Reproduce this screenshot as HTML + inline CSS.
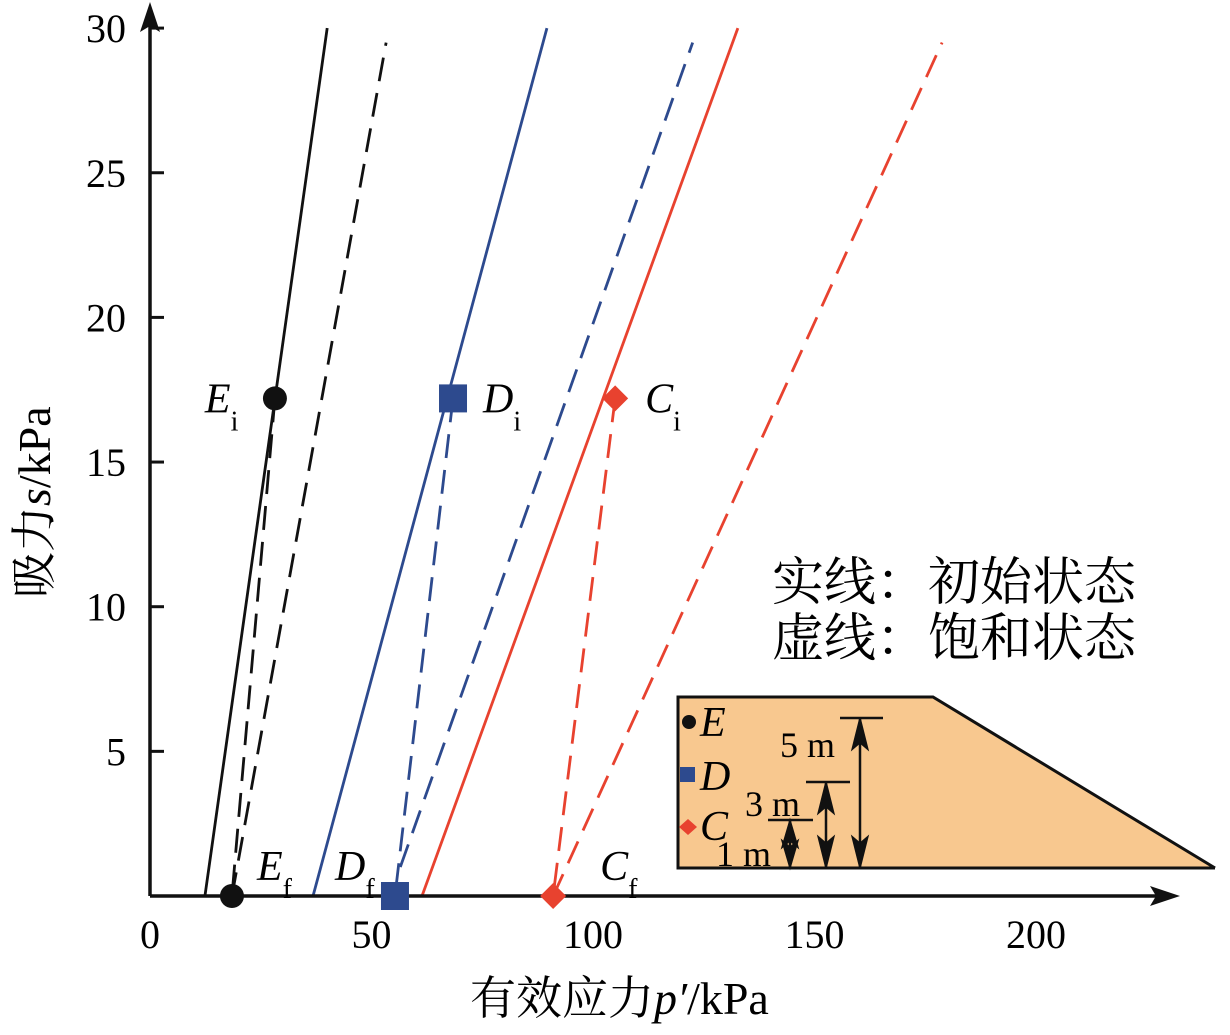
<!DOCTYPE html>
<html><head><meta charset="utf-8"><style>
body{margin:0;background:#fff}
svg{display:block}
text{font-family:"Liberation Serif","Noto Serif CJK SC",serif}
</style></head><body>
<svg id="chart" width="1230" height="1035" viewBox="0 0 1230 1035">
<g id="inset">
<polygon points="678,697 933,697 1215,868 678,868" fill="#f8c88f" stroke="none"/>
<polyline points="1215,868 678,868 678,697 933,697 1215,868" fill="none" stroke="#111" stroke-width="3"/>
<circle cx="689" cy="722" r="7" fill="#111"/>
<text x="700" y="736" font-size="42" font-style="italic">E</text>
<rect x="680" y="767" width="15" height="15" fill="#2d4a8e"/>
<text x="700" y="790" font-size="42" font-style="italic">D</text>
<polygon points="679,827 688,819 697,827 688,835" fill="#e8422f"/>
<text x="700" y="840" font-size="42" font-style="italic">C</text>
<g stroke="#111" stroke-width="2.5" fill="#111">
<line x1="840" y1="718" x2="883" y2="718"/><line x1="860" y1="718" x2="860" y2="868"/>
<polygon points="860,720 853,748 860,742 867,748"/><polygon points="860,866 853,838 860,844 867,838"/>
<line x1="806" y1="782" x2="850" y2="782"/><line x1="826" y1="782" x2="826" y2="868"/>
<polygon points="826,784 819,812 826,806 833,812"/><polygon points="826,866 819,838 826,844 833,838"/>
<line x1="768" y1="820" x2="813" y2="820"/><line x1="790" y1="820" x2="790" y2="868"/>
<polygon points="790,822 783,846 790,840 797,846"/><polygon points="790,866 783,842 790,848 797,842"/>
</g>
<text x="780" y="757" font-size="36">5 m</text>
<text x="745" y="816" font-size="36">3 m</text>
<text x="716" y="866" font-size="36">1 m</text>
</g>
<g id="plot"></g>
<text x="772" y="600" font-size="52" font-family="Noto Serif CJK SC, serif">实线：初始状态</text>
<text x="772" y="656" font-size="52" font-family="Noto Serif CJK SC, serif">虚线：饱和状态</text>
<text x="470" y="1014" font-size="46">有效应力<tspan font-style="italic">p′</tspan>/kPa</text>
<text transform="translate(50,598) rotate(-90)" font-size="46">吸力<tspan font-style="italic">s</tspan>/kPa</text>
</svg>
<script>
const xTicks=[0,50,100,150,200];
const yTicks=[5,10,15,20,25,30];
const lineNames=['black-initial','black-saturated','blue-initial','blue-saturated','red-initial','red-saturated','e-path','d-path','c-path'];
const lineStart=[[12.4,0],[18.5,0],[36.8,0],[56.5,1],[61.4,0],[91,0],[28.2,17.2],[68.4,17.2],[105,17.2]];
const lineEnd=[[40,30],[53.3,29.5],[89.6,30],[122.5,29.5],[132.7,30],[178.8,29.5],[18.5,0],[55.3,0],[91,0]];
const lineColors=['#111','#111','#2d4a8e','#2d4a8e','#e8422f','#e8422f','#111','#2d4a8e','#e8422f'];
const lineDashed=[false,true,false,true,false,true,true,true,true];
const pointNames=['E','D','C','E','D','C'];
const pointSub=['i','i','i','f','f','f'];
const pointP=[28.2,68.4,105,18.5,55.3,91];
const pointS=[17.2,17.2,17.2,0,0,0];
const pointShape=['circle','square','diamond','circle','square','diamond'];
const X=p=>150+p*4.43, Y=s=>896-s*28.93;
const NS='http://www.w3.org/2000/svg';
const g=document.getElementById('plot');
function mk(t,a,txt){const e=document.createElementNS(NS,t);for(const k in a)e.setAttribute(k,a[k]);if(txt!==undefined)e.textContent=txt;g.appendChild(e);return e;}
lineNames.forEach((n,i)=>{
 const e=mk('line',{x1:X(lineStart[i][0]),y1:Y(lineStart[i][1]),x2:X(lineEnd[i][0]),y2:Y(lineEnd[i][1]),stroke:lineColors[i],'stroke-width':2.8});
 if(lineDashed[i])e.setAttribute('stroke-dasharray','24 12');
 
 
});
let ax=mk('line',{x1:150,y1:896,x2:1160,y2:896,stroke:'#111','stroke-width':3.5});


let ah=mk('polygon',{points:'1180,896 1150,886 1156,896 1150,906',fill:'#111'});


let ay=mk('line',{x1:150,y1:896,x2:150,y2:15,stroke:'#111','stroke-width':3.5});


let ah2=mk('polygon',{points:'150,2 140,32 150,26 160,32',fill:'#111'});


xTicks.forEach(v=>{
 const l=mk('text',{x:X(v),y:948,'font-size':40,'text-anchor':'middle'},String(v));
 
 
});
yTicks.forEach(v=>{
 const t=mk('line',{x1:150,y1:Y(v),x2:164,y2:Y(v),stroke:'#111','stroke-width':3});
 
 
 const l=mk('text',{x:126,y:Y(v)+14,'font-size':40,'text-anchor':'end'},String(v));
 
 
});
pointNames.forEach((n,i)=>{
 const cx=X(pointP[i]),cy=Y(pointS[i]);let m;
 const col=n==='E'?'#111':n==='D'?'#2d4a8e':'#e8422f';
 if(pointShape[i]==='circle')m=mk('circle',{cx,cy,r:12,fill:col});
 else if(pointShape[i]==='square')m=mk('rect',{x:cx-14,y:cy-14,width:28,height:28,fill:col});
 else m=mk('polygon',{points:`${cx-13},${cy} ${cx},${cy-13} ${cx+13},${cy} ${cx},${cy+13}`,fill:col});
 
 
 let lx,ly;
 if(pointSub[i]==='i'){lx=n==='E'?cx-70:cx+30;ly=cy+14;}
 else{lx=n==='E'?cx+25:n==='D'?cx-60:cx+47;ly=cy-16;}
 const t=mk('text',{x:lx,y:ly,'font-size':42,'font-style':'italic'});
 t.innerHTML=n+'<tspan font-style="normal" font-size="28" dy="18">'+pointSub[i]+'</tspan>';
 
 
});
</script>
</body></html>
